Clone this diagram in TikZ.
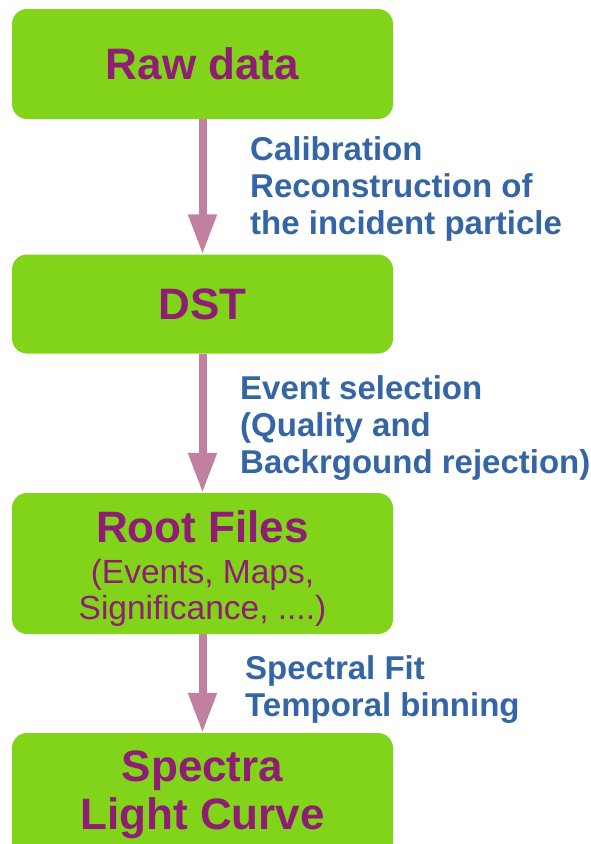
\documentclass[tikz,border=0pt]{standalone}
\usepackage{fontspec}
\setmainfont{Liberation Sans}
\usetikzlibrary{arrows.meta,positioning}
\definecolor{stagegreen}{HTML}{81D41A}
\definecolor{stagepurple}{HTML}{8E1D73}
\definecolor{stepblue}{HTML}{3465A4}
\definecolor{flowpink}{HTML}{C1809F}
\newcommand{\subfont}{\mdseries\fontsize{33.5}{37}\selectfont}

\begin{document}
\begin{tikzpicture}[x=1pt, y=-1pt,
  stage/.style={rectangle, rounded corners=15pt, fill=stagegreen, text=stagepurple,
    font=\bfseries\fontsize{44}{48}\selectfont, minimum width=381pt, align=center, inner sep=0pt},
  stagetext/.style={text=stagepurple, align=center, inner sep=0pt,
    font=\bfseries\fontsize{44}{48}\selectfont},
  steplabel/.style={anchor=west, text=stepblue, align=left, inner sep=0pt,
    font=\bfseries\fontsize{33}{37}\selectfont},
  flow/.style={draw=flowpink, line width=8pt, -{Triangle[width=27pt,length=40pt]}}]
  \useasboundingbox (0,0) rectangle (591,844);
  % processing stages
  \node[stage, minimum height=110pt] (raw) at (202.5,64) {Raw data};
  \node[stage, minimum height=99pt] (dst) at (202.5,304) {DST};
  \node[stage, minimum height=141pt] (root) at (202.5,563.5) {};
  \node[stagetext] (roottext) at (202.5,569)
    {Root Files\\[-7pt]{\subfont (Events, Maps,}\\[-12pt]{\subfont Significance, ....)}};
  \node[stage, minimum height=124pt] (spectra) at (202.5,795) {Spectra\\Light Curve};
  % connectors
  \draw[flow] (raw.south) -- (dst.north);
  \draw[flow] (dst.south) -- (root.north);
  \draw[flow] (root.south) -- (spectra.north);
  % step descriptions
  \node[steplabel] (calib) at (250,189) {Calibration\\Reconstruction of\\the incident particle};
  \node[steplabel] (select) at (240,428) {Event selection\\(Quality and\\Backrgound rejection)};
  \node[steplabel] (fit) at (245,690) {Spectral Fit\\Temporal binning};
\end{tikzpicture}
\end{document}
